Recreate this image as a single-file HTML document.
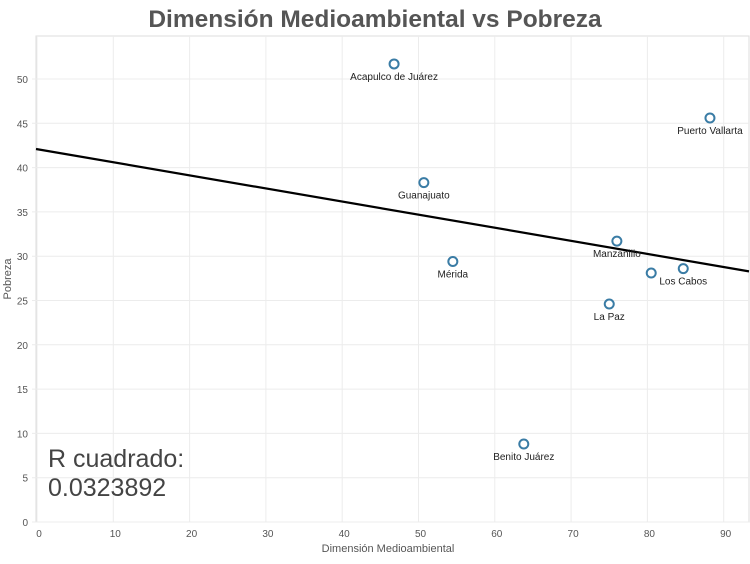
<!DOCTYPE html>
<html><head><meta charset="utf-8"><style>
body{margin:0;background:#fff;width:750px;height:559px;overflow:hidden;font-family:"Liberation Sans",sans-serif}
svg text{font-family:"Liberation Sans",sans-serif}
</style></head><body>
<svg id="chart" width="750" height="559">
<text x="375" y="27" text-anchor="middle" font-size="24.5" font-weight="bold" fill="#555">Dimensión Medioambiental vs Pobreza</text>
<g id="grid"></g>
<g id="axes"></g>
<g id="marks"></g>
<text x="48" y="467" font-size="25" fill="#444">R cuadrado:</text>
<text x="48" y="496" font-size="25" fill="#444">0.0323892</text>
<text x="388" y="552" text-anchor="middle" font-size="11" fill="#555">Dimensión Medioambiental</text>
<text transform="translate(11,279) rotate(-90)" text-anchor="middle" font-size="11" fill="#555">Pobreza</text>
</svg>
<script>
const cities=["Acapulco de Juárez","Puerto Vallarta","Guanajuato","Manzanillo","Mérida","Los Cabos","","La Paz","Benito Juárez"];
const xVals=[46.8,88.2,50.7,76.0,54.5,84.7,80.5,75.0,63.8];
const yVals=[51.7,45.6,38.3,31.7,29.4,28.6,28.1,24.6,8.8];
const xTicks=[0,10,20,30,40,50,60,70,80,90];
const yTicks=[0,5,10,15,20,25,30,35,40,45,50];
const trendIntercept=42.1, trendSlope=-0.148;
const L=36,R=749,T=36,B=522;
const xs=v=>37+v*7.63, ys=v=>522-v*8.86;
const NS="http://www.w3.org/2000/svg";
function mk(p,t,a){const e=document.createElementNS(NS,t);for(const k in a)e.setAttribute(k,a[k]);p.appendChild(e);return e;}
const grid=document.getElementById('grid'),axes=document.getElementById('axes'),marks=document.getElementById('marks');
const box=mk(grid,'rect',{x:L,y:T,width:R-L,height:B-T,fill:'none',stroke:'#ddd'});


xTicks.forEach(t=>{
 const g=mk(grid,'line',{x1:xs(t),x2:xs(t),y1:T,y2:B,stroke:'#ececec'});
 
 
 const tx=mk(axes,'text',{x:xs(t)+2,y:537,'text-anchor':'middle','font-size':10,fill:'#555'});
 tx.textContent=t;
 
 
});
yTicks.forEach(t=>{
 const g=mk(grid,'line',{x1:L-4,x2:R,y1:ys(t),y2:ys(t),stroke:'#ececec'});
 
 
 const tx=mk(axes,'text',{x:28,y:ys(t)+4,'text-anchor':'end','font-size':10,fill:'#555'});
 tx.textContent=t;
 
 
});
const xmax=(R-37)/7.63;
const tl=mk(marks,'line',{x1:L,y1:ys(trendIntercept),x2:R,y2:ys(trendIntercept+trendSlope*xmax),stroke:'#000','stroke-width':2.2});


cities.forEach((c,i)=>{
 const px=xs(xVals[i]),py=ys(yVals[i]);
 const pt=mk(marks,'circle',{cx:px,cy:py,r:4.5,fill:'#fff',stroke:'#3a7ca5','stroke-width':2});
 
 
 if(c){
  const lb=mk(marks,'text',{x:px,y:py+16,'text-anchor':'middle','font-size':10,fill:'#222'});
  lb.textContent=c;
  
  
 }
});
</script>
</body></html>
